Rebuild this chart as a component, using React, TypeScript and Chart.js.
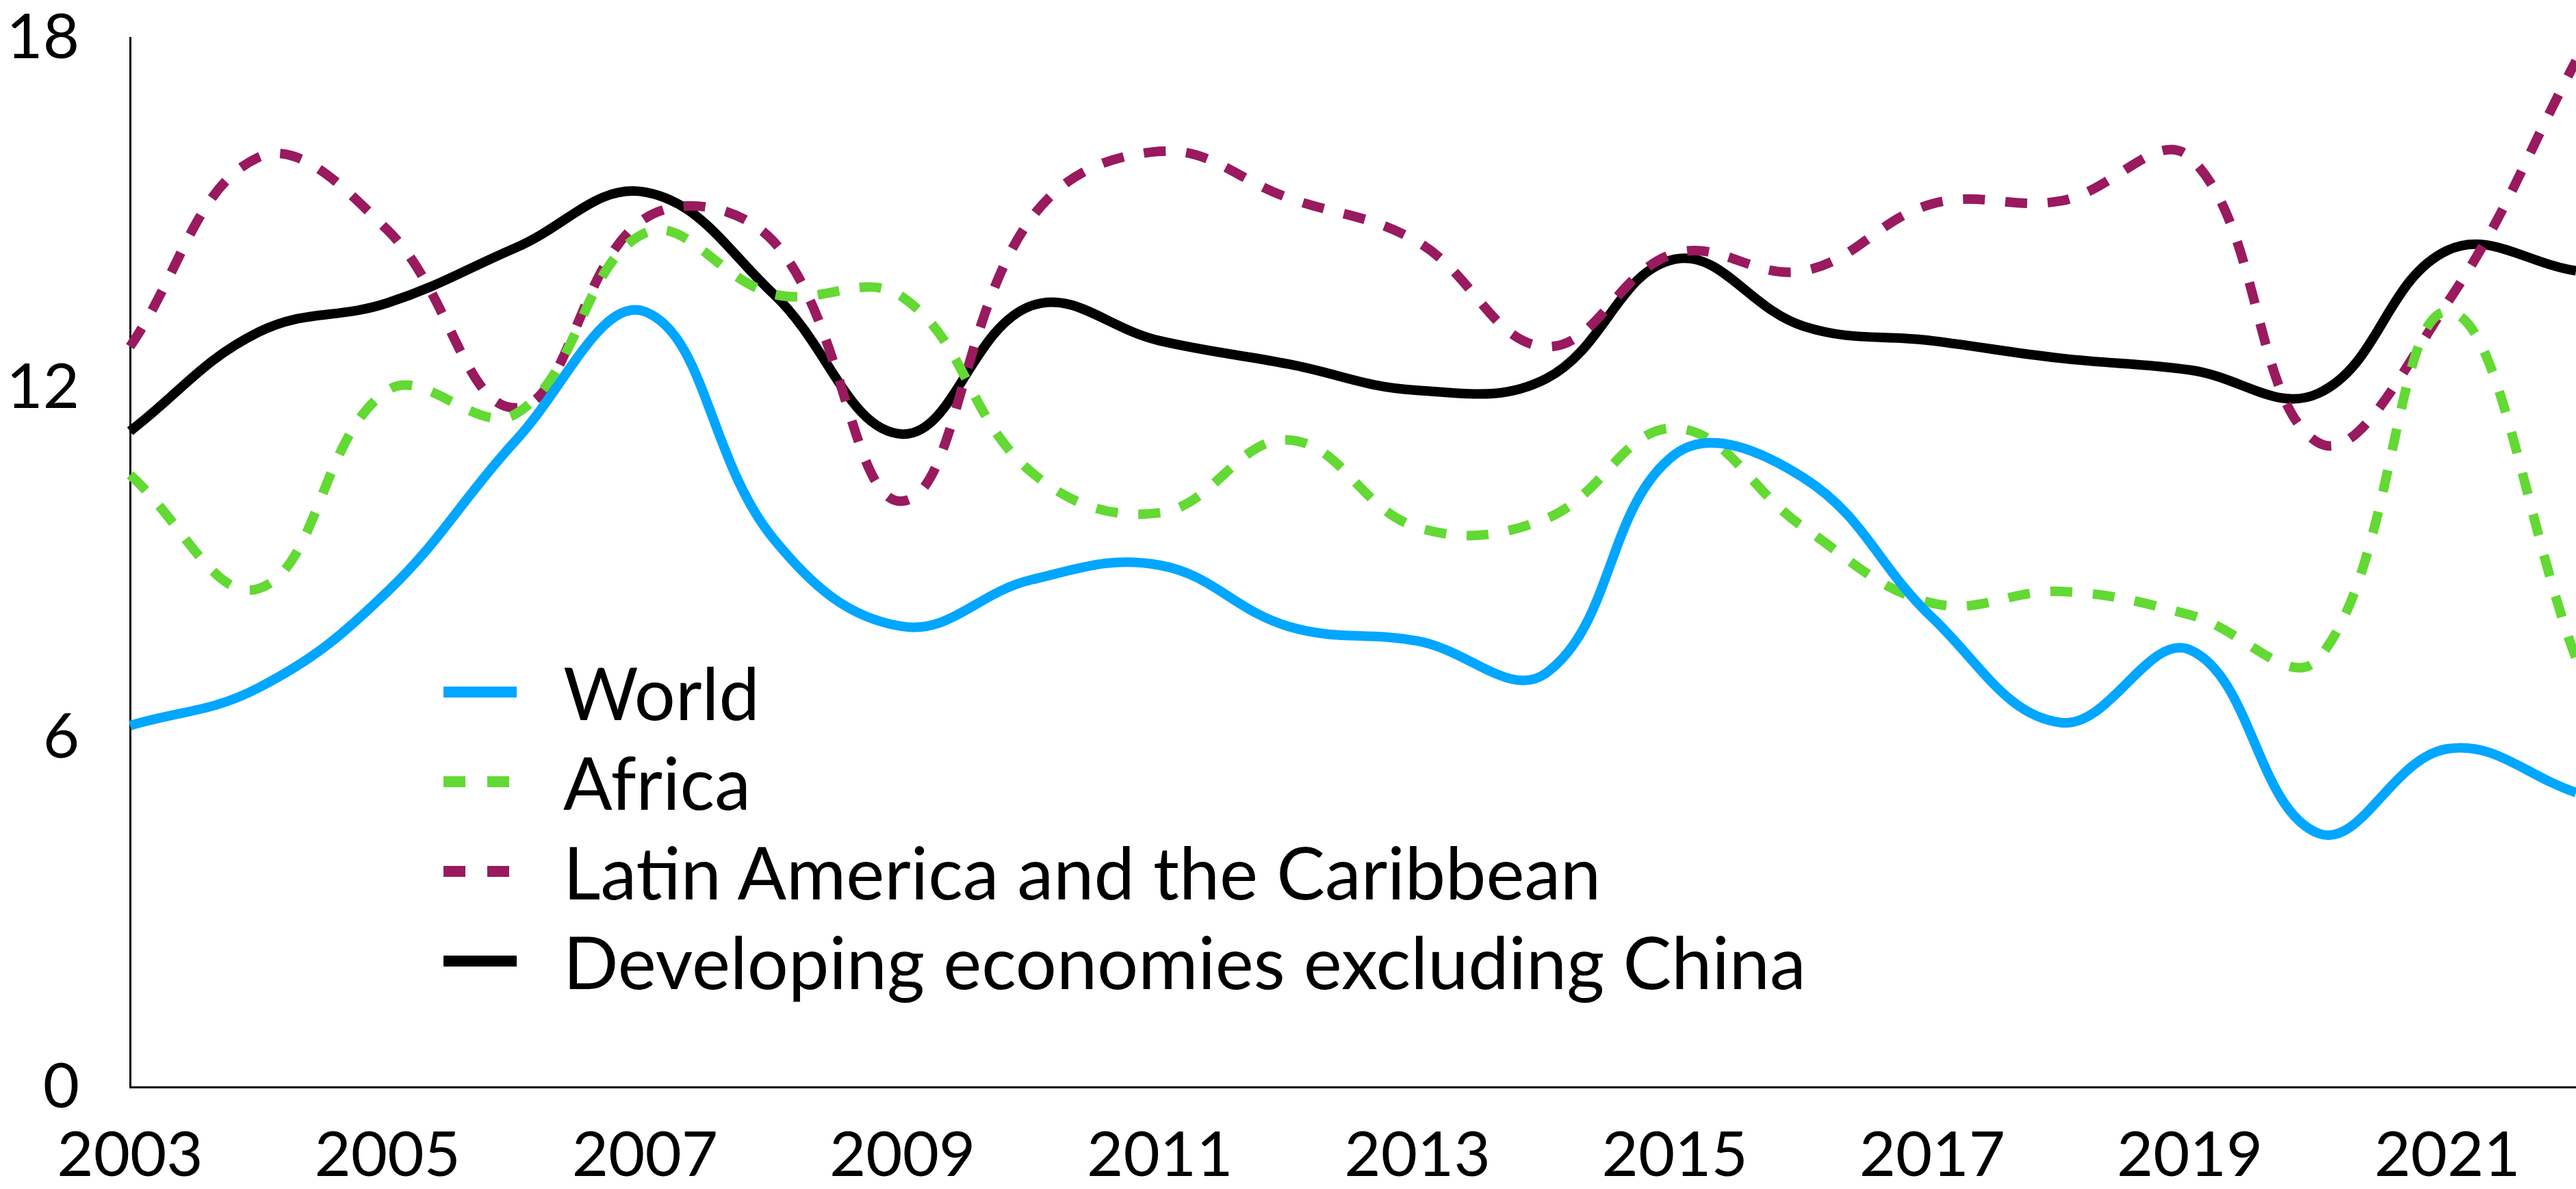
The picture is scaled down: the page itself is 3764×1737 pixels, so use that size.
import React, { useEffect, useRef } from "react";
import { Chart, registerables } from "chart.js";

Chart.register(...registerables);

const years = ["2003","2004","2005","2006","2007","2008","2009","2010","2011","2012","2013","2014","2015","2016","2017","2018","2019","2020","2021","2022"];
const tickYears = ["2003","2005","2007","2009","2011","2013","2015","2017","2019","2021"];

const world = [6.2, 6.85, 8.5, 11.1, 13.3, 9.4, 7.9, 8.7, 8.95, 7.9, 7.65, 7.1, 10.85, 10.45, 8.05, 6.25, 7.5, 4.35, 5.8, 5.05];
const africa = [10.5, 8.55, 11.95, 11.55, 14.65, 13.6, 13.55, 10.55, 9.85, 11.1, 9.6, 9.75, 11.3, 9.6, 8.3, 8.5, 8.1, 7.35, 13.3, 7.35];
const latam = [12.7, 15.95, 14.7, 11.65, 14.9, 14.5, 10.05, 14.9, 16.05, 15.25, 14.5, 12.7, 14.3, 14.0, 15.15, 15.2, 15.95, 11.05, 13.45, 17.6];
const devExChina = [11.25, 12.95, 13.45, 14.4, 15.35, 13.6, 11.2, 13.4, 12.8, 12.4, 11.95, 12.15, 14.2, 13.05, 12.8, 12.5, 12.3, 11.9, 14.35, 14.0];

const seriesNames = ["World", "Africa", "Latin America and the Caribbean", "Developing economies excluding China"];
const seriesColors = ["#00a6ff", "#63d934", "#991a5e", "#000000"];
const seriesDashed = [false, true, true, false];

const FONT = "Lato, 'Open Sans', sans-serif";

export default function App() {
  const canvasRef = useRef<HTMLCanvasElement | null>(null);

  useEffect(() => {
    document.body.style.margin = "0";
    const canvas = canvasRef.current;
    if (!canvas) return;
    const values = [world, africa, latam, devExChina];
    const chart = new Chart(canvas, {
      type: "line",
      data: {
        labels: years,
        datasets: values.map((v, i) => ({
          label: seriesNames[i],
          data: v,
          borderColor: seriesColors[i],
          backgroundColor: seriesColors[i],
          borderWidth: 14,
          borderDash: seriesDashed[i] ? [32, 30] : [],
          borderCapStyle: "butt",
          pointRadius: 0,
          pointHoverRadius: 0,
          tension: 0.4,
          fill: false,
        })),
      },
      options: {
        animation: false,
        responsive: true,
        maintainAspectRatio: false,
        layout: { padding: { top: 55, right: 0, left: 0, bottom: 0 } },
        plugins: {
          legend: { display: false },
          tooltip: { enabled: false },
        },
        scales: {
          x: {
            grid: { display: false, drawTicks: false },
            border: { display: true, color: "#000", width: 3 },
            afterFit: (scale: any) => {
              scale.height = 149;
              scale.paddingLeft = 0;
              scale.paddingRight = 0;
            },
            ticks: {
              autoSkip: false,
              maxRotation: 0,
              padding: 45,
              color: "#000",
              font: { family: FONT, size: 92 },
              callback: function (this: any, value: any) {
                const lab = years[value as number];
                return tickYears.includes(lab) ? lab : "";
              },
            },
          },
          y: {
            min: 0,
            max: 18,
            grid: { display: false, drawTicks: false },
            border: { display: true, color: "#000", width: 3 },
            afterFit: (scale: any) => {
              scale.width = 190;
              scale.paddingTop = 0;
              scale.paddingBottom = 0;
            },
            ticks: {
              stepSize: 6,
              padding: 74,
              color: "#000",
              font: { family: FONT, size: 92 },
            },
          },
        },
      },
    });
    return () => chart.destroy();
  }, []);

  return (
    <div style={{ position: "relative", width: 3764, height: 1737, overflow: "hidden", background: "#fff" }}>
      <canvas ref={canvasRef} />
      <div style={{ position: "absolute", left: 648, top: 945, fontFamily: FONT, fontSize: 106, color: "#000" }}>
        {seriesNames.map((name, i) => (
          <div key={name} style={{ display: "flex", alignItems: "center", height: 131 }}>
            <svg width={107} height={16} style={{ flex: "0 0 auto" }}>
              <line
                x1={0}
                y1={8}
                x2={107}
                y2={8}
                stroke={seriesColors[i]}
                strokeWidth={16}
                strokeDasharray={seriesDashed[i] ? "32 32" : undefined}
              />
            </svg>
            <span style={{ marginLeft: 68, lineHeight: 1, whiteSpace: "nowrap" }}>{name}</span>
          </div>
        ))}
      </div>
    </div>
  );
}
